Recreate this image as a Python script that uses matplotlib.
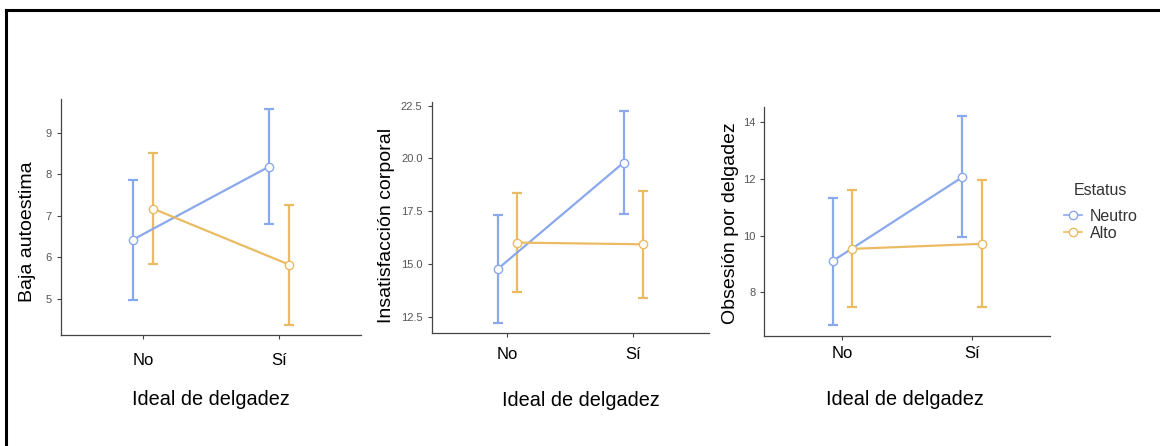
import matplotlib
matplotlib.use("Agg")
import matplotlib.pyplot as plt
from matplotlib.lines import Line2D
import numpy as np

plt.rcParams['font.family'] = ['Liberation Sans', 'DejaVu Sans']

groups = ["No", "Sí"]
status = ["Neutro", "Alto"]
colors = ["#8aa9ec", "#ebbb63"]

# mean, lower, upper per status (Neutro, Alto) per group (No, Sí)
autoestima_mean = [[6.42, 8.18], [7.17, 5.82]]
autoestima_low = [[4.96, 6.81], [5.83, 4.38]]
autoestima_high = [[7.86, 9.56], [8.52, 7.27]]

insatisf_mean = [[14.76, 19.80], [16.01, 15.93]]
insatisf_low = [[12.22, 17.37], [13.66, 13.39]]
insatisf_high = [[17.32, 22.25], [18.35, 18.47]]

obsesion_mean = [[9.10, 12.07], [9.53, 9.71]]
obsesion_low = [[6.83, 9.95], [7.46, 7.47]]
obsesion_high = [[11.33, 14.23], [11.61, 11.95]]

panels = [
    dict(ylabel="Baja autoestima", means=autoestima_mean,
         lows=autoestima_low, highs=autoestima_high,
         yticks=[5, 6, 7, 8, 9], ylim=(4.13, 9.81), fmt="{:.0f}",
         rect=[0.0526, 0.249, 0.2586, 0.529], pad=10,
         xlab=(0.5, -0.275), ylab=(-0.113, 0.436)),
    dict(ylabel="Insatisfacción corporal", means=insatisf_mean,
         lows=insatisf_low, highs=insatisf_high,
         yticks=[12.5, 15.0, 17.5, 20.0, 22.5], ylim=(11.73, 22.69),
         fmt="{:.1f}", rect=[0.372, 0.2534, 0.239, 0.519], pad=7,
         xlab=(0.54, -0.29), ylab=(-0.161, 0.463)),
    dict(ylabel="Obsesión por delgadez", means=obsesion_mean,
         lows=obsesion_low, highs=obsesion_high,
         yticks=[8, 10, 12, 14], ylim=(6.46, 14.55), fmt="{:.0f}",
         rect=[0.659, 0.2473, 0.2463, 0.513], pad=4.5,
         xlab=(0.49, -0.281), ylab=(-0.12, 0.492)),
]

fig = plt.figure(figsize=(11.6, 4.46), dpi=100)

x = np.arange(len(groups))
dodge = 0.075

for p in panels:
    ax = fig.add_axes(p["rect"])
    for i, name in enumerate(status):
        xs = x + (i - 0.5) * 2 * dodge
        m = np.array(p["means"][i])
        lo = np.array(p["lows"][i])
        hi = np.array(p["highs"][i])
        ax.errorbar(xs, m, yerr=[m - lo, hi - m], fmt="none", ecolor=colors[i],
                    elinewidth=1.6, capsize=3.5, capthick=1.6, zorder=2)
        ax.plot(xs, m, color=colors[i], lw=1.6, zorder=3)
        ax.plot(xs, m, "o", ms=6, mfc="white", mec=colors[i], mew=1.0, zorder=4)
    ax.set_xlim(-0.6, 1.6)
    ax.set_ylim(*p["ylim"])
    ax.set_xticks(x)
    ax.set_xticklabels(groups, fontsize=12, color="black")
    ax.set_yticks(p["yticks"])
    ax.set_yticklabels([p["fmt"].format(v) for v in p["yticks"]],
                       fontsize=8, color="#555555")
    ax.tick_params(axis="both", color="#444444", length=3, width=0.8)
    ax.tick_params(axis="x", pad=p["pad"])
    ax.set_ylabel(p["ylabel"], fontsize=14, va="center", ha="center")
    ax.yaxis.set_label_coords(*p["ylab"])
    ax.set_xlabel("Ideal de delgadez", fontsize=14.3, va="center", ha="center")
    ax.xaxis.set_label_coords(*p["xlab"])
    for side in ["top", "right"]:
        ax.spines[side].set_visible(False)
    for side in ["left", "bottom"]:
        ax.spines[side].set_color("#444444")
        ax.spines[side].set_linewidth(0.9)

handles = [Line2D([0], [0], color=c, lw=1.2, marker="o", ms=6, mfc="white",
                  mec=c, mew=1.0) for c in colors]
leg = fig.legend(handles, status, title="Estatus", loc="upper left",
                 bbox_to_anchor=(0.905, 0.622), frameon=False, fontsize=11.5,
                 title_fontsize=11.5, handlelength=1.1, handletextpad=0.5,
                 labelspacing=0.12)
leg.get_title().set_color("#333333")
leg._legend_box.sep = 8
for t in leg.get_texts():
    t.set_color("#333333")

# outer black frame (top and left edges)
fig.add_artist(Line2D([0.005, 1.0], [0.977, 0.977], color="black", lw=2.2,
                      transform=fig.transFigure))
fig.add_artist(Line2D([0.005, 0.005], [0.0, 0.977], color="black", lw=2.2,
                      transform=fig.transFigure))

fig.savefig("out.png", dpi=100)
